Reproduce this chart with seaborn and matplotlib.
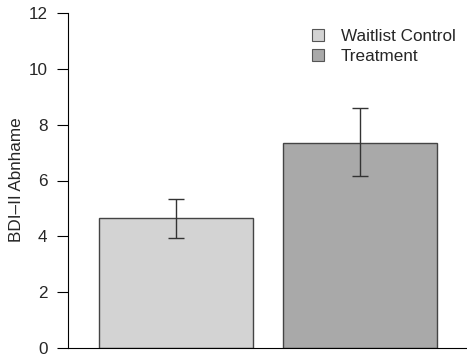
import matplotlib
matplotlib.use("Agg")
import matplotlib.pyplot as plt
from matplotlib.patches import Patch
import seaborn as sns
import pandas as pd

groups = ["Waitlist Control", "Treatment"]
means = [4.64, 7.36]
err_low = [3.95, 6.16]
err_high = [5.33, 8.58]
colors = ["#D3D3D3", "#A9A9A9"]
yticks = [0, 2, 4, 6, 8, 10, 12]
ylabel = "BDI–II Abnhame"

sns.set_style("white")
plt.rcParams["font.family"] = ["Liberation Sans", "DejaVu Sans"]

df = pd.DataFrame({"group": groups, "value": means})

fig = plt.figure(figsize=(4.67, 3.56), dpi=100)
ax = fig.add_axes([68 / 467, 8 / 356, 1 - 68 / 467, (348 - 13) / 356])

sns.barplot(data=df, x="group", y="value", hue="group", palette=colors,
            order=groups, hue_order=groups, errorbar=None, width=0.837,
            edgecolor="#444444", linewidth=1.0, legend=False, ax=ax)

xpos = list(range(len(groups)))
yerr = [[m - lo for m, lo in zip(means, err_low)],
        [hi - m for m, hi in zip(means, err_high)]]
ax.errorbar(xpos, means, yerr=yerr, fmt="none", ecolor="#333333",
            elinewidth=1.0, capsize=5.5, capthick=1.0)

ax.set_xlim(-0.587, 1.582)
ax.set_ylim(0, 12)
ax.set_yticks(yticks)
ax.set_yticklabels([str(t) for t in yticks], fontsize=12.3)
ax.set_xticks([])
ax.set_xlabel("")
ax.set_ylabel(ylabel, fontsize=12.3)
ax.tick_params(axis="y", length=7.8, width=0.8, color="black", pad=7, left=True)

for s in ["top", "right"]:
    ax.spines[s].set_visible(False)
for s in ["left", "bottom"]:
    ax.spines[s].set_color("black")
    ax.spines[s].set_linewidth(0.8)
ax.spines["left"].set_bounds(0, 12)
ax.yaxis.set_label_coords(24 / 467, (356 - 180) / 356, transform=fig.transFigure)

handles = [Patch(facecolor=c, edgecolor="#555555", linewidth=0.8) for c in colors]
ax.legend(handles, groups, loc="upper left", bbox_to_anchor=(312 / 467, 1 - 29 / 356),
          bbox_transform=fig.transFigure, frameon=False, fontsize=12.3,
          handlelength=0.7, handleheight=0.7, handletextpad=1.0,
          labelspacing=0.3, borderaxespad=0, borderpad=0)

fig.savefig("out.png", dpi=100)
